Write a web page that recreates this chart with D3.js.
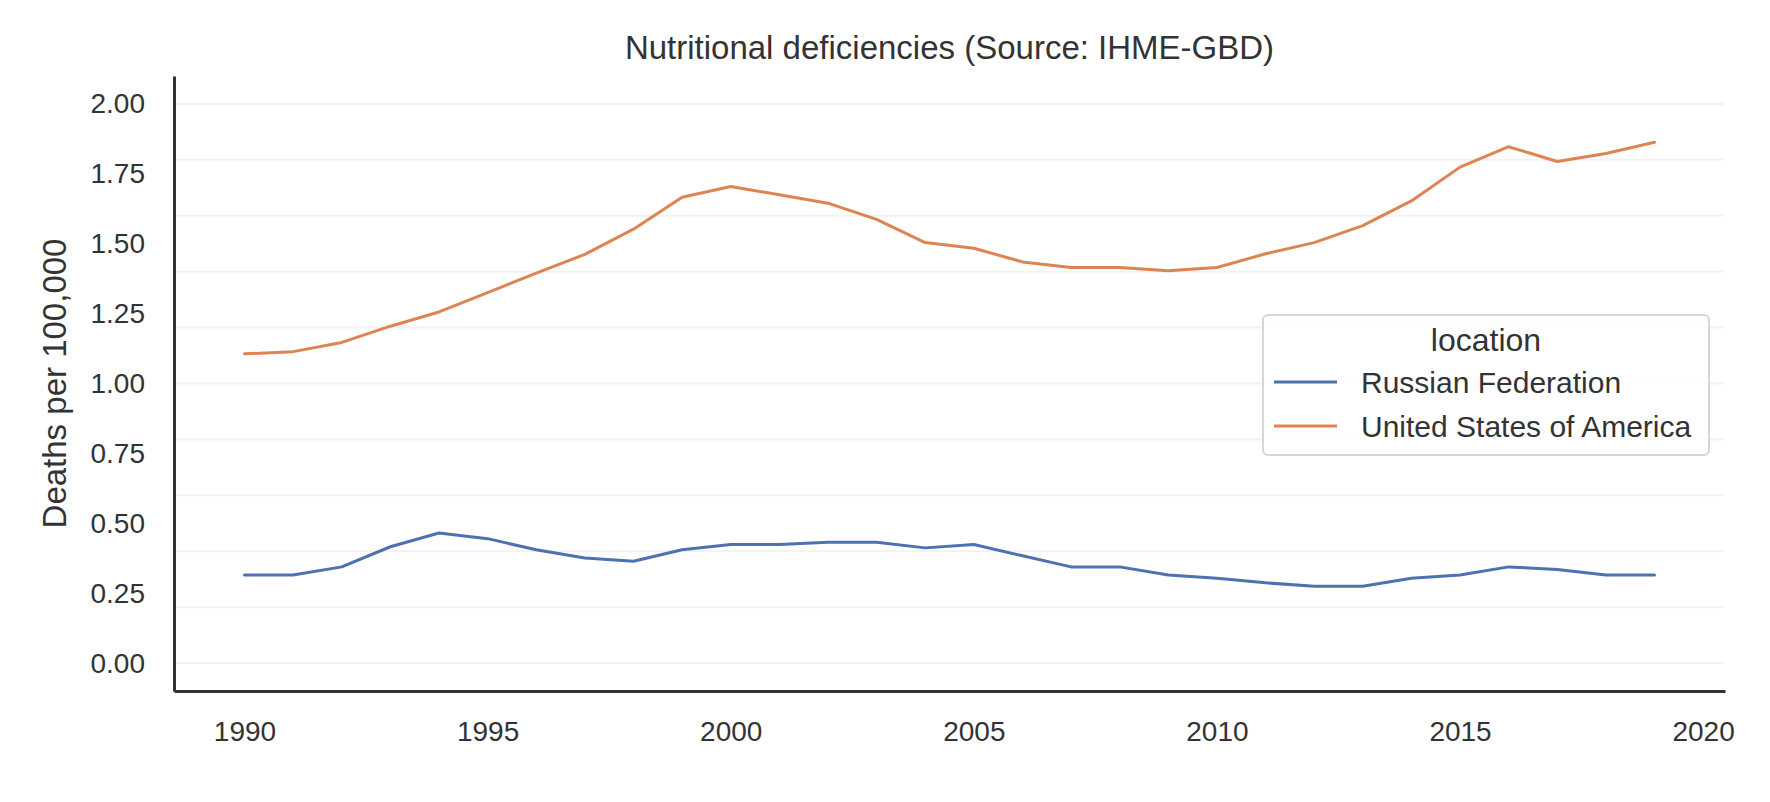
<!DOCTYPE html>
<html>
<head>
<meta charset="utf-8">
<script src="https://cdn.jsdelivr.net/npm/d3@7"></script>
<style>
  html, body { margin: 0; padding: 0; background: #ffffff; }
  svg text { font-family: "Liberation Sans", Arial, sans-serif; fill: #333333; }
</style>
</head>
<body>
<svg id="chart"></svg>
<script>
// Nutritional deficiencies, deaths per 100,000
const years = [1990, 1991, 1992, 1993, 1994, 1995, 1996, 1997, 1998, 1999,
               2000, 2001, 2002, 2003, 2004, 2005, 2006, 2007, 2008, 2009,
               2010, 2011, 2012, 2013, 2014, 2015, 2016, 2017, 2018, 2019];

const russia = [0.315, 0.315, 0.344, 0.416, 0.465, 0.445, 0.405, 0.376, 0.364, 0.405,
                0.424, 0.424, 0.432, 0.432, 0.412, 0.424, 0.384, 0.344, 0.344, 0.315,
                0.303, 0.287, 0.275, 0.275, 0.303, 0.315, 0.344, 0.335, 0.315, 0.315];

const usa = [1.106, 1.114, 1.147, 1.205, 1.256, 1.325, 1.395, 1.462, 1.552, 1.666,
             1.705, 1.675, 1.645, 1.587, 1.504, 1.484, 1.435, 1.415, 1.415, 1.403,
             1.415, 1.464, 1.504, 1.565, 1.653, 1.774, 1.847, 1.794, 1.823, 1.863];

const seriesNames = ['Russian Federation', 'United States of America'];
const seriesColors = ['#4c72b0', '#dd8452'];

const yTickValues = [0, 0.25, 0.5, 0.75, 1.0, 1.25, 1.5, 1.75, 2.0];
const yGridValues = [0, 0.2, 0.4, 0.6, 0.8, 1.0, 1.2, 1.4, 1.6, 1.8, 2.0];
const xTickValues = [1990, 1995, 2000, 2005, 2010, 2015, 2020];

const width = 1770;
const height = 802;
const margin = { top: 76, right: 45, bottom: 111, left: 174 };

const svg = d3.select('#chart')
  .attr('width', width)
  .attr('height', height);

// matplotlib-style 5% padding around the data
const x = d3.scaleLinear()
  .domain([1988.55, 2020.45])
  .range([margin.left, width - margin.right]);

const y = d3.scaleLinear()
  .domain([-0.1, 2.1])
  .range([height - margin.bottom, margin.top]);

// Light horizontal grid (its spacing differs from the tick labels in the original)
svg.append('g')
  .attr('class', 'grid')
  .selectAll('line')
  .data(yGridValues)
  .enter().append('line')
  .attr('x1', margin.left)
  .attr('x2', width - margin.right - 2)
  .attr('y1', d => y(d))
  .attr('y2', d => y(d))
  .attr('stroke', '#f2f2f2')
  .attr('stroke-width', 2);

// Axes: labels only, no tick marks
const yAxis = svg.append('g')
  .attr('transform', `translate(${margin.left},0)`)
  .call(d3.axisLeft(y).tickValues(yTickValues).tickFormat(d3.format('.2f')).tickSize(0).tickPadding(29));

const xAxis = svg.append('g')
  .attr('transform', `translate(0,${height - margin.bottom})`)
  .call(d3.axisBottom(x).tickValues(xTickValues).tickFormat(d3.format('d')).tickSize(0).tickPadding(30));

[yAxis, xAxis].forEach(ax => {
  ax.select('.domain').attr('stroke', '#333333').attr('stroke-width', 3);
  ax.selectAll('.tick text')
    .style('font-family', '"Liberation Sans", Arial, sans-serif')
    .style('font-size', '28px')
    .attr('fill', '#3a3a3a');
});

// Lines
const line = d3.line()
  .x((d, i) => x(years[i]))
  .y(d => y(d));

svg.append('g')
  .attr('class', 'lines')
  .selectAll('path')
  .data([russia, usa])
  .enter().append('path')
  .attr('d', d => line(d))
  .attr('fill', 'none')
  .attr('stroke', (d, i) => seriesColors[i])
  .attr('stroke-width', 3)
  .attr('stroke-linejoin', 'round')
  .attr('stroke-linecap', 'round');

// Title
svg.append('text')
  .attr('x', (margin.left + width - margin.right) / 2)
  .attr('y', 59)
  .attr('text-anchor', 'middle')
  .style('font-size', '33px')
  .text('Nutritional deficiencies (Source: IHME-GBD)');

// Y label
svg.append('text')
  .attr('transform', `translate(66,${(margin.top + height - margin.bottom) / 2}) rotate(-90)`)
  .attr('text-anchor', 'middle')
  .style('font-size', '33px')
  .text('Deaths per 100,000');

// Legend
const legend = svg.append('g')
  .attr('class', 'legend')
  .attr('transform', 'translate(1263,315)');

legend.append('rect')
  .attr('width', 446)
  .attr('height', 140)
  .attr('rx', 5)
  .attr('fill', '#ffffff')
  .attr('fill-opacity', 0.85)
  .attr('stroke', '#d6d6d6')
  .attr('stroke-width', 2);

legend.append('text')
  .attr('x', 223)
  .attr('y', 36)
  .attr('text-anchor', 'middle')
  .style('font-size', '32px')
  .text('location');

const item = legend.selectAll('.item')
  .data(seriesNames)
  .enter().append('g')
  .attr('class', 'item')
  .attr('transform', (d, i) => `translate(0,${67 + i * 44})`);

item.append('line')
  .attr('x1', 11)
  .attr('x2', 74)
  .attr('stroke', (d, i) => seriesColors[i])
  .attr('stroke-width', 3);

item.append('text')
  .attr('x', 98)
  .attr('dy', '0.35em')
  .style('font-size', '30px')
  .text(d => d);
</script>
</body>
</html>
